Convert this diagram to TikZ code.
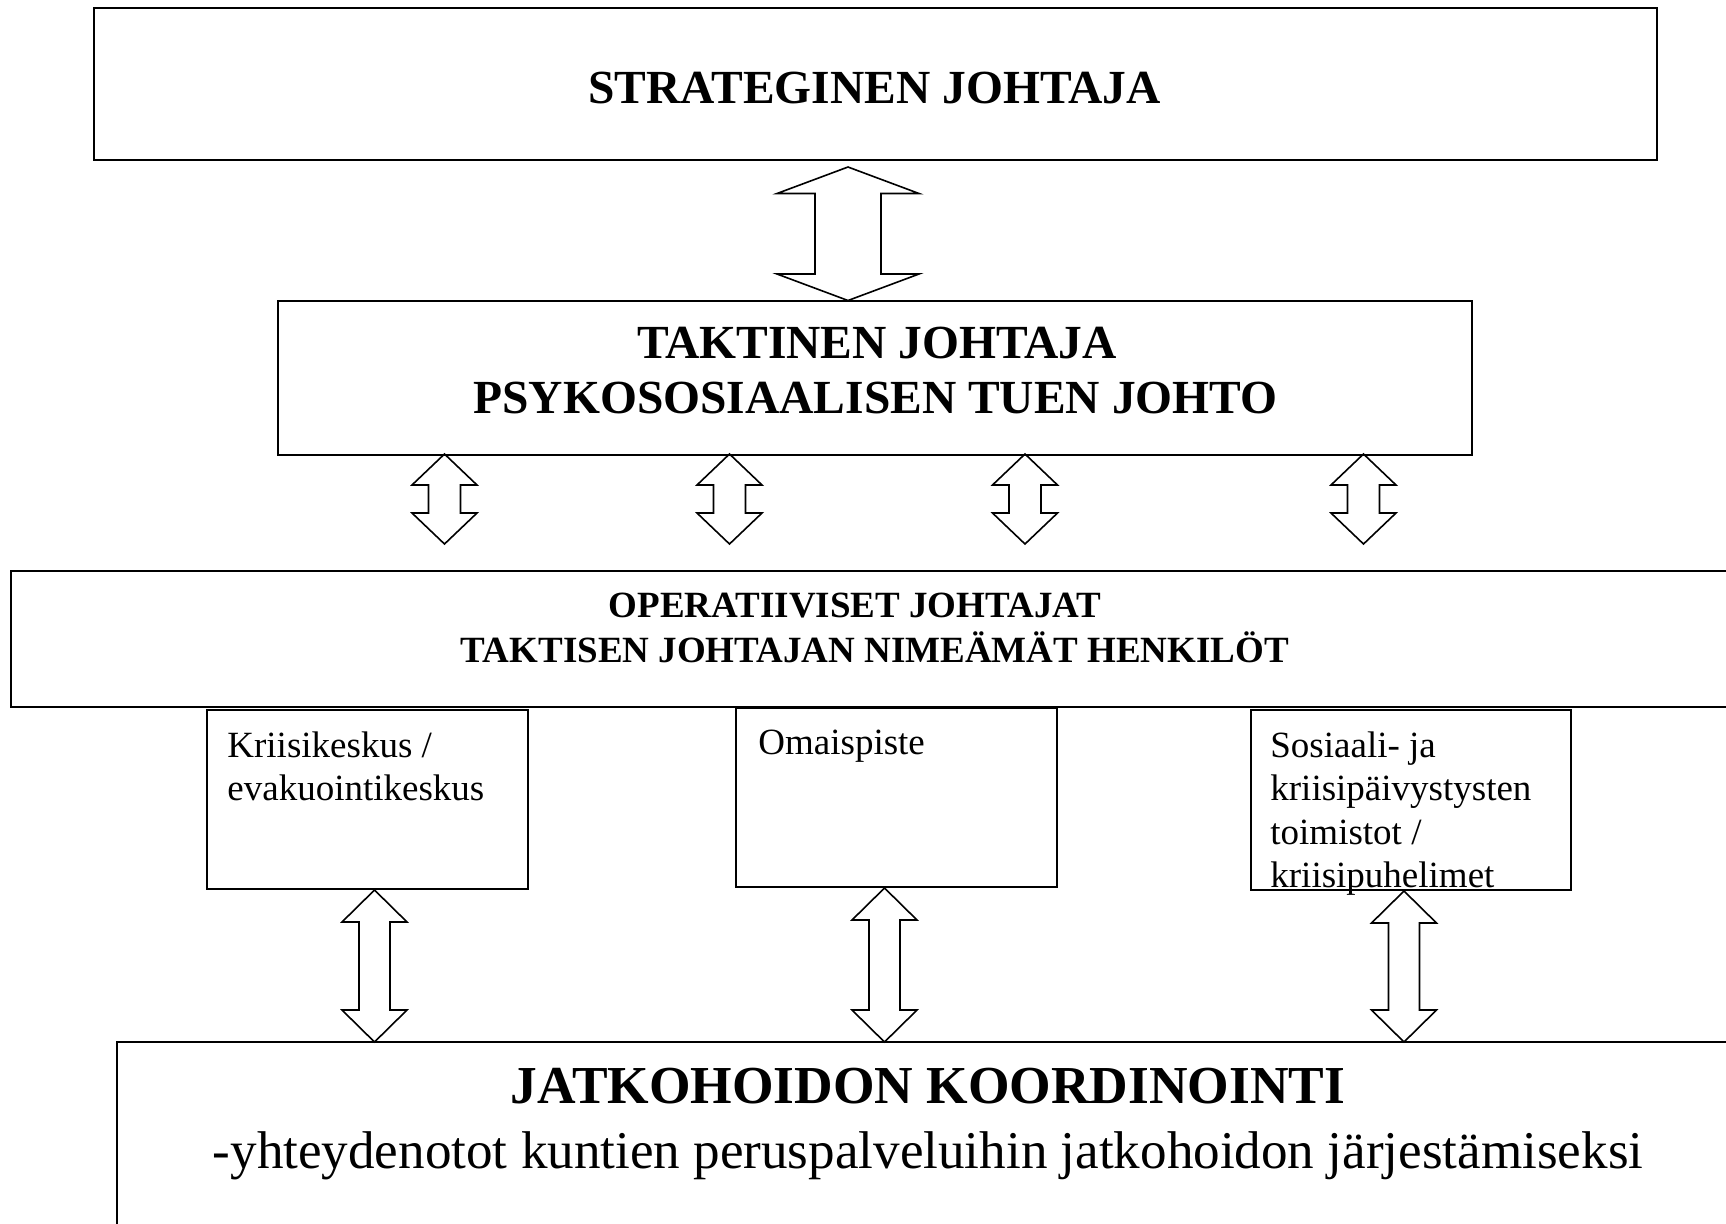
\documentclass[tikz,border=0pt]{standalone}
\usepackage{fontspec}
\setmainfont{Liberation Serif}
\usetikzlibrary{calc}
\tikzset{
  box/.style={draw, line width=1pt, inner sep=0pt, outer sep=0pt},
  barrow/.style={draw, line width=0.8pt, line join=miter},
  bigbold/.style={font=\fontsize{23.75pt}{27pt}\selectfont\bfseries, inner sep=0pt, anchor=base},
  midbold/.style={font=\fontsize{18.5pt}{22pt}\selectfont\bfseries, inner sep=0pt, anchor=base},
  small/.style={font=\fontsize{18.5pt}{21.75pt}\selectfont, inner sep=0pt, anchor=base west, align=left},
  huge/.style={font=\fontsize{26.7pt}{30pt}\selectfont\bfseries, inner sep=0pt, anchor=base},
  hugereg/.style={font=\fontsize{26.55pt}{30pt}\selectfont, inner sep=0pt, anchor=base}
}
\newcommand{\boxnode}[5]{%
  \node[box, minimum width={(#4-#2)*0.5pt}, minimum height={(#5-#3)*0.5pt}] (#1) at ({(#2+#4)/2},{(#3+#5)/2}) {};}
\newcommand{\blockarrow}[5]{%
  \draw[barrow] (#1) -- ($(#1)+(#3,#5)$) -- ($(#1)+(#4,#5)$) -- ($(#2)+(#4,-#5)$) -- ($(#2)+(#3,-#5)$) -- (#2)
   -- ($(#2)+(-#3,-#5)$) -- ($(#2)+(-#4,-#5)$) -- ($(#1)+(-#4,#5)$) -- ($(#1)+(-#3,#5)$) -- cycle;}
\begin{document}
\begin{tikzpicture}[x=0.5pt,y=-0.5pt]
\useasboundingbox (0,0) rectangle (1726,1223);
\clip (0,0) rectangle (1726,1223);
% boxes
\boxnode{strat}{93.5}{7.5}{1657}{159.5}
\boxnode{takt}{278}{300.5}{1472}{455}
\boxnode{oper}{11}{571}{1760}{707}
\boxnode{kriisi}{207}{709.5}{527.5}{889}
\boxnode{omais}{736}{708}{1057}{887}
\boxnode{sosi}{1250.5}{710}{1571}{890}
\boxnode{jatko}{117}{1042}{1760}{1260}
% texts
\node[bigbold] (tstrat) at (874.5,103) {STRATEGINEN JOHTAJA};
\node[bigbold] (ttakt1) at (877,358) {TAKTINEN JOHTAJA};
\node[bigbold] (ttakt2) at (875.5,413) {PSYKOSOSIAALISEN TUEN JOHTO};
\node[midbold] (toper1) at (855,617) {OPERATIIVISET JOHTAJAT};
\node[midbold] (toper2) at (875,662) {TAKTISEN JOHTAJAN NIMEÄMÄT HENKILÖT};
\node[small] (tkriisi) at (227,800.5) {Kriisikeskus /\\evakuointikeskus};
\node[small] (tomais) at (758,754) {Omaispiste};
\node[small] (tsosi) at (1270,887.5) {Sosiaali- ja\\kriisipäivystysten\\toimistot /\\kriisipuhelimet};
\node[huge] (tjatko1) at (928,1103) {JATKOHOIDON KOORDINOINTI};
\node[hugereg] (tjatko2) at (928,1168) {-yhteydenotot kuntien peruspalveluihin jatkohoidon järjestämiseksi};
% arrow end points
\coordinate (a0t) at (848,167);   \coordinate (a0b) at (848,300.5);
\coordinate (m1t) at (444.5,454); \coordinate (m1b) at (444.5,544);
\coordinate (m2t) at (729.5,454); \coordinate (m2b) at (729.5,544);
\coordinate (m3t) at (1025,454);  \coordinate (m3b) at (1025,544);
\coordinate (m4t) at (1363.5,454);\coordinate (m4b) at (1363.5,544);
\coordinate (b1t) at (374.5,890); \coordinate (b1b) at (374.5,1042);
\coordinate (b2t) at (884.5,888); \coordinate (b2b) at (884.5,1042);
\coordinate (b3t) at (1404,891);  \coordinate (b3b) at (1404,1042);
% arrows
\blockarrow{a0t}{a0b}{71}{33}{26.5}
\blockarrow{m1t}{m1b}{32.5}{16}{31}
\blockarrow{m2t}{m2b}{32.5}{16}{31}
\blockarrow{m3t}{m3b}{32.5}{16}{31}
\blockarrow{m4t}{m4b}{32.5}{16}{31}
\blockarrow{b1t}{b1b}{32.5}{15.5}{32}
\blockarrow{b2t}{b2b}{32.5}{15.5}{32}
\blockarrow{b3t}{b3b}{32.5}{15.5}{32}
\end{tikzpicture}
\end{document}
